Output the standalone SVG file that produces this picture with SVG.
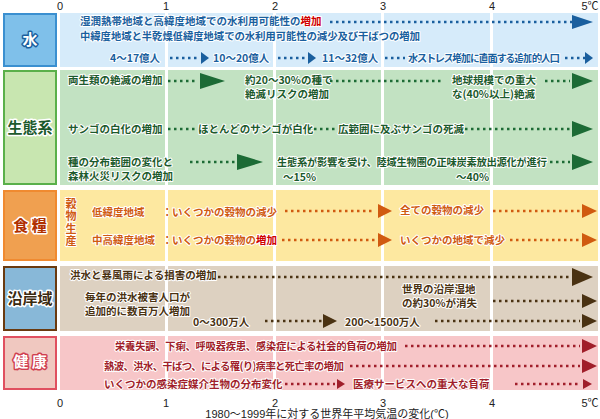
<svg xmlns="http://www.w3.org/2000/svg" width="600" height="419" viewBox="0 0 600 419">
<defs>
<style>
text{font-family:"Noto Sans CJK JP","Noto Sans",sans-serif;font-weight:bold;font-size:10.5px;paint-order:stroke;stroke:#fff;stroke-width:2px;stroke-linejoin:round}
.ax{font-family:"Liberation Sans","Noto Sans CJK JP",sans-serif;font-weight:normal;font-size:11px;fill:#222;stroke:none}
.w{fill:#1a5f9e}.g{fill:#1c5a2c}.o{fill:#d05a10}.b{fill:#4a3212}.h{fill:#a01e2a}.r{fill:#d00000}
.d{fill:none;stroke-width:2.5;stroke-dasharray:2.5 3.5}
.dw{stroke:#1a5f9e}.dg{stroke:#1c6b35}.do{stroke:#d05a10}.db{stroke:#4a3212}.dh{stroke:#a01e2a}
.lbl{font-size:15px;stroke-width:3px}
</style>
</defs>
<rect width="600" height="419" fill="#fff"/>
<g id="axis">
<text class="ax" x="60" y="10" text-anchor="middle">0</text>
<text class="ax" x="166" y="10" text-anchor="middle">1</text>
<text class="ax" x="275" y="10" text-anchor="middle">2</text>
<text class="ax" x="383" y="10" text-anchor="middle">3</text>
<text class="ax" x="492" y="10" text-anchor="middle">4</text>
<text class="ax" x="590" y="10" text-anchor="middle">5℃</text>
<text class="ax" x="60" y="407" text-anchor="middle">0</text>
<text class="ax" x="166" y="407" text-anchor="middle">1</text>
<text class="ax" x="275" y="407" text-anchor="middle">2</text>
<text class="ax" x="383" y="407" text-anchor="middle">3</text>
<text class="ax" x="492" y="407" text-anchor="middle">4</text>
<text class="ax" x="590" y="407" text-anchor="middle">5℃</text>
<text class="ax" x="327" y="418" text-anchor="middle" font-size="11.5">1980～1999年に対する世界年平均気温の変化(℃)</text>
</g>
<g id="panels">
<rect x="60" y="13" width="538" height="54" fill="#d6ebfa"/>
<rect x="60" y="70" width="538" height="115" fill="#c2e2c2"/>
<rect x="60" y="190" width="538" height="71" fill="#fde8a0"/>
<rect x="60" y="266" width="538" height="65" fill="#ddd1c1"/>
<rect x="60" y="336" width="538" height="54" fill="#f7c6c8"/>
<g fill="#fff"><rect x="165" y="13" width="3" height="377"/><rect x="273" y="13" width="3" height="377"/><rect x="381" y="13" width="3" height="377"/><rect x="490" y="13" width="3" height="377"/></g>
</g>
<g id="icon-water"><rect x="4" y="14" width="52" height="52" fill="#7fc0ea" stroke="#3a8fd0" stroke-width="2"/><text class="lbl" x="30" y="45" text-anchor="middle" style="fill:#fff;stroke:#1a5f9e">水</text></g>
<g id="icon-eco"><rect x="4" y="71" width="52" height="113" fill="#c8e6b0" stroke="#5ab04a" stroke-width="2"/><text class="lbl" x="30" y="133" text-anchor="middle" style="fill:#1c5a2c;stroke:#fff">生態系</text></g>
<g id="icon-food"><rect x="4" y="191" width="52" height="69" fill="#f0a050" stroke="#f08a30" stroke-width="2"/><text class="lbl" x="30" y="231" text-anchor="middle" style="fill:#b03000;stroke:#fff">食 糧</text></g>
<g id="icon-coast"><rect x="4" y="267" width="52" height="63" fill="#88b8d8" stroke="#6a3a10" stroke-width="2"/><text class="lbl" x="30" y="304" text-anchor="middle" style="fill:#3a2a10;stroke:#fff">沿岸域</text></g>
<g id="icon-health"><rect x="4" y="337" width="52" height="52" fill="#f0c8c0" stroke="#e05060" stroke-width="2"/><text class="lbl" x="30" y="367" text-anchor="middle" style="fill:#fff;stroke:#d04050">健 康</text></g>
<g id="water">
<text class="w" x="80" y="25">湿潤熱帯地域と高緯度地域での水利用可能性の<tspan class="r">増加</tspan></text>
<text class="w" x="80" y="39.5" textLength="340">中緯度地域と半乾燥低緯度地域での水利用可能性の減少及び干ばつの増加</text>
<text class="w" x="110" y="62">4～17億人</text>
<text class="w" x="213" y="62">10～20億人</text>
<text class="w" x="322" y="62">11～32億人</text>
<text class="w" x="408" y="62" textLength="152">水ストレス増加に直面する追加的人口</text>
</g>
<g id="eco">
<text class="g" x="68" y="84">両生類の絶滅の増加</text>
<text class="g" x="245" y="84">約20～30%の種で</text>
<text class="g" x="245" y="98">絶滅リスクの増加</text>
<text class="g" x="452" y="84">地球規模での重大</text>
<text class="g" x="452" y="98">な(40%以上)絶滅</text>
<text class="g" x="68" y="133">サンゴの白化の増加</text>
<text class="g" x="198" y="133">ほとんどのサンゴが白化</text>
<text class="g" x="338" y="133">広範囲に及ぶサンゴの死滅</text>
<text class="g" x="68" y="166">種の分布範囲の変化と</text>
<text class="g" x="68" y="180">森林火災リスクの増加</text>
<text class="g" x="277" y="166" textLength="270">生態系が影響を受け、陸域生物圏の正味炭素放出源化が進行</text>
<text class="g" x="283" y="181">～15%</text>
<text class="g" x="456" y="181">～40%</text>
</g>
<g id="food">
<text class="o" x="71" y="198" style="writing-mode:vertical-rl;letter-spacing:1.5px;font-size:11px">穀物生産</text>
<text class="o" x="92" y="216">低緯度地域</text><text class="o" x="162" y="216">：</text>
<text class="o" x="172" y="216">いくつかの穀物の減少</text>
<text class="o" x="400" y="214">全ての穀物の減少</text>
<text class="o" x="92" y="244">中高緯度地域</text><text class="o" x="162" y="244">：</text>
<text class="o" x="172" y="244">いくつかの穀物の<tspan class="r">増加</tspan></text>
<text class="o" x="400" y="244">いくつかの地域で減少</text>
</g>
<g id="coast">
<text class="b" x="70" y="279">洪水と暴風雨による損害の増加</text>
<text class="b" x="402" y="293">世界の沿岸湿地</text>
<text class="b" x="402" y="307">の約30%が消失</text>
<text class="b" x="85" y="301">毎年の洪水被害人口が</text>
<text class="b" x="85" y="315">追加的に数百万人増加</text>
<text class="b" x="193" y="326">0～300万人</text>
<text class="b" x="345" y="326">200～1500万人</text>
</g>
<g id="health">
<text class="h" x="115" y="350" textLength="282">栄養失調、下痢、呼吸器疾患、感染症による社会的負荷の増加</text>
<text class="h" x="104" y="370" textLength="240">熱波、洪水、干ばつ、による罹(り)病率と死亡率の増加</text>
<text class="h" x="104" y="388">いくつかの感染症媒介生物の分布変化</text>
<text class="h" x="353" y="388">医療サービスへの重大な負荷</text>
</g>
<g id="connectors">
<path class="d dw" d="M330 22H572M170 58H200M278 58H307M385 58H405M565 58H585"/>
<g fill="#1a5f9e"><path d="M572 15L593 22L572 29Z"/><path d="M201 52L209 58L201 64Z"/><path d="M308 52L316 58L308 64Z"/><path d="M585 52L593 58L585 64Z"/></g>
<path class="d dg" d="M168 81H198M330 81H443M545 81H570M168 129H195M308 129H335M465 129H570M190 162H235M550 162H570"/>
<g fill="#1c6b35"><path d="M200 73L225 81L200 89Z"/><path d="M572 73L593 81L572 89Z"/><path d="M572 121L593 129L572 137Z"/><path d="M237 154L263 162L237 170Z"/><path d="M572 154L593 162L572 170Z"/></g>
<path class="d do" d="M285 211H375M493 211H580M282 240H375M510 240H580"/>
<g fill="#d05a10"><path d="M378 204L392 211L378 218Z"/><path d="M582 204L597 211L582 218Z"/><path d="M378 233L392 240L378 247Z"/><path d="M582 233L597 240L582 247Z"/></g>
<path class="d db" d="M218 277H570M493 301H580M265 321H322M435 321H580"/>
<g fill="#4a3212"><path d="M572 268L593 277L572 286Z"/><path d="M582 294L597 301L582 308Z"/><path d="M323 314L337 321L323 328Z"/><path d="M582 314L597 321L582 328Z"/></g>
<path class="d dh" d="M405 346H580M350 366H580M285 384H335M515 384H580"/>
<g fill="#a01e2a"><path d="M582 339L597 346L582 353Z"/><path d="M582 359L597 366L582 373Z"/><path d="M337 379L345 384L337 389Z"/><path d="M583 379L592 384L583 389Z"/></g>
</g>
</svg>
